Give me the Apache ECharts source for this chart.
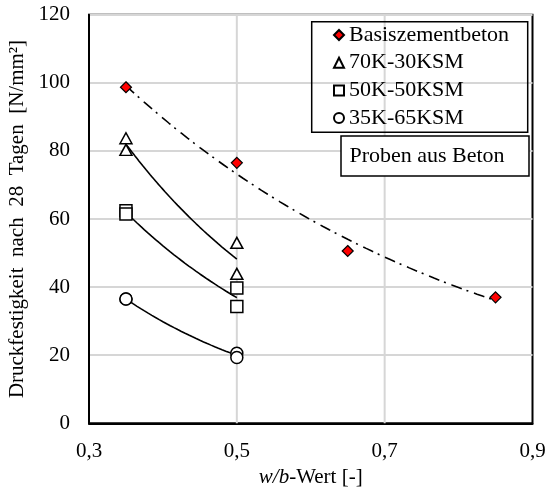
<!DOCTYPE html>
<html>
<head>
<meta charset="utf-8">
<script src="https://cdn.jsdelivr.net/npm/echarts@6/dist/echarts.min.js"></script>
<style>
  html, body { margin: 0; padding: 0; background: #fff; }
  #chart { width: 550px; height: 488px; }
</style>
</head>
<body>
<div id="chart"></div>
<script>
// w/b ratio and 28-day compressive strength per mix
const basisX = [0.35, 0.50, 0.65, 0.85];
const basisY = [98.7, 76.5, 50.6, 37.0];

const k70X = [0.35, 0.35, 0.50, 0.50];
const k70Y = [83.7, 80.3, 53.0, 43.9];

const k50X = [0.35, 0.35, 0.50, 0.50];
const k50Y = [62.4, 61.5, 39.7, 34.3];

const k35X = [0.35, 0.35, 0.50, 0.50];
const k35Y = [36.5, 36.5, 20.6, 19.3];

const seriesNames = ['Basiszementbeton', '70K-30KSM', '50K-50KSM', '35K-65KSM'];
const xTicks = [0.3, 0.5, 0.7, 0.9];
const xGridAt = [0.5, 0.7];
const yRange = [0, 120];
const boxText = 'Proben aus Beton';

const FONT = '"Liberation Serif", "DejaVu Serif", serif';
const FS = 21;
const FS_BOX = 22;
const GRID_COLOR = '#d6d6d6';

function pairs(xs, ys) { return xs.map((x, i) => [x, ys[i]]); }

// exponential least-squares trend y = a * exp(b x), evaluated over the data range
function expTrend(xs, ys) {
  const n = xs.length;
  const ly = ys.map(Math.log);
  const mx = xs.reduce((s, v) => s + v, 0) / n;
  const my = ly.reduce((s, v) => s + v, 0) / n;
  let sxy = 0, sxx = 0;
  for (let i = 0; i < n; i++) { sxy += (xs[i] - mx) * (ly[i] - my); sxx += (xs[i] - mx) ** 2; }
  const b = sxy / sxx, lnA = my - b * mx;
  const x0 = Math.min(...xs), x1 = Math.max(...xs);
  const pts = [];
  const steps = 60;
  for (let k = 0; k <= steps; k++) {
    const x = x0 + (x1 - x0) * k / steps;
    pts.push([x, Math.exp(lnA + b * x)]);
  }
  return pts;
}

function trendSeries(xs, ys, dash) {
  return {
    type: 'line', data: expTrend(xs, ys), showSymbol: false, symbol: 'none',
    silent: true, z: 3, smooth: false,
    lineStyle: { color: '#000', width: 1.6, type: dash || 'solid' }
  };
}

function pointSeries(name, xs, ys, symbol, size, fill, bw) {
  return {
    name, type: 'scatter', data: pairs(xs, ys), symbol, symbolSize: size, z: 5,
    itemStyle: { color: fill, borderColor: '#000', borderWidth: bw, opacity: 1 }
  };
}

// vertical grid lines at the inner labelled w/b values
function gridLineSeries(x) {
  return {
    type: 'line', data: [[x, yRange[0]], [x, yRange[1]]], showSymbol: false, symbol: 'none',
    silent: true, z: 1, lineStyle: { color: GRID_COLOR, width: 2 }
  };
}

const chart = echarts.init(document.getElementById('chart'), null, { renderer: 'canvas' });

chart.setOption({
  animation: false,
  backgroundColor: '#fff',
  textStyle: { fontFamily: FONT },
  grid: {
    left: 89, right: 17.5, top: 14.7, bottom: 64.7,
    outerBoundsMode: 'none', containLabel: false,
    show: true, borderColor: '#000', borderWidth: 2, backgroundColor: 'transparent'
  },
  xAxis: {
    type: 'value', min: 0.3, max: 0.9,
    axisLine: { show: true, lineStyle: { color: '#000', width: 2 } },
    axisTick: { show: false },
    splitLine: { show: false },
    axisLabel: {
      customValues: xTicks, margin: 18, color: '#000', fontSize: FS, fontFamily: FONT,
      formatter: v => v.toFixed(1).replace('.', ',')
    },
    name: '{i|w/b}{n|-Wert [-]}', nameLocation: 'middle', nameGap: 41,
    nameTextStyle: {
      color: '#000', fontSize: FS, fontFamily: FONT,
      rich: {
        i: { fontStyle: 'italic', fontSize: FS, fontFamily: FONT, color: '#000' },
        n: { fontSize: FS, fontFamily: FONT, color: '#000' }
      }
    }
  },
  yAxis: {
    type: 'value', min: yRange[0], max: yRange[1], interval: 20,
    axisLine: { show: true, lineStyle: { color: '#000', width: 2 } },
    axisTick: { show: false },
    splitLine: { show: true, lineStyle: { color: GRID_COLOR, width: 2 } },
    axisLabel: { margin: 19, color: '#000', fontSize: FS, fontFamily: FONT },
    name: 'Druckfestigkeit  nach  28  Tagen  [N/mm²]', nameLocation: 'middle', nameGap: 45,
    nameTextStyle: { color: '#000', fontSize: FS, fontFamily: FONT }
  },
  legend: {
    data: seriesNames, orient: 'vertical', left: 333, top: 24, padding: 0,
    itemWidth: 10, itemHeight: 10, itemGap: 5.7,
    textStyle: { color: '#000', fontSize: FS_BOX, fontFamily: FONT, lineHeight: 22 }
  },
  graphic: [
    {
      type: 'rect', shape: { x: 311.7, y: 21.7, width: 216, height: 110.6 },
      style: { fill: 'rgba(0,0,0,0)', stroke: '#000', lineWidth: 1.5 }, z: 10
    },
    {
      type: 'rect', shape: { x: 341, y: 136, width: 188, height: 40 },
      style: { fill: '#fff', stroke: '#000', lineWidth: 1.5 }, z: 10
    },
    {
      type: 'text', x: 427, y: 156.5, z: 11,
      style: { text: boxText, fill: '#000', font: FS_BOX + 'px ' + FONT, align: 'center', verticalAlign: 'middle' }
    }
  ],
  series: [
    ...xGridAt.map(gridLineSeries),
    trendSeries(basisX, basisY, [11, 5, 2, 6]),
    trendSeries(k70X, k70Y),
    trendSeries(k50X, k50Y),
    trendSeries(k35X, k35Y),
    pointSeries(seriesNames[0], basisX, basisY, 'diamond', 11, '#ff0000', 1.2),
    pointSeries(seriesNames[1], k70X, k70Y, 'triangle', [12, 11], '#fff', 1.5),
    pointSeries(seriesNames[2], k50X, k50Y, 'rect', 12, '#fff', 1.5),
    pointSeries(seriesNames[3], k35X, k35Y, 'circle', 12, '#fff', 1.5)
  ]
});
</script>
</body>
</html>
